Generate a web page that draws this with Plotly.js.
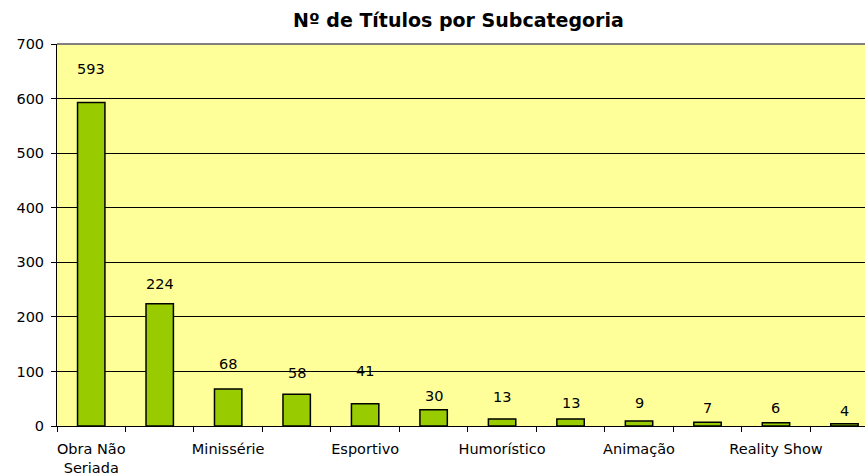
<!DOCTYPE html>
<html>
<head>
<meta charset="utf-8">
<script src="https://cdn.plot.ly/plotly-3.0.1.min.js"></script>
<style>html,body{margin:0;padding:0;background:#fff;}#chart{width:865px;height:476px;}</style>
</head>
<body>
<div id="chart"></div>
<script>
// Categories (odd-position names are not shown in the reference; they are hidden by the axis)
const categories = ["Obra Não Seriada", "Série", "Minissérie", "Documentário", "Esportivo", "Variedades",
                    "Humorístico", "Jornalístico", "Animação", "Educativo", "Reality Show", "Outros"];
const values = [593, 224, 68, 58, 41, 30, 13, 13, 9, 7, 6, 4];
const tickLabels = ["Obra Não<br>Seriada", "", "Minissérie", "", "Esportivo", "", "Humorístico", "", "Animação", "", "Reality Show", ""];
const yTicks = [0, 100, 200, 300, 400, 500, 600, 700];
// vertical pixel offset of each value label above its bar top (style)
const labelShift = [33, 20, 25, 21, 33, 14, 22, 16, 18, 14, 15, 13];

const FONT = "DejaVu Sans, Verdana, sans-serif";
const FS = 14.5;

const trace = {
  type: "bar",
  x: categories,
  y: values,
  width: 0.4,
  marker: {color: "#99CC00", line: {color: "#000000", width: 1.5}},
  hoverinfo: "none"
};

const annotations = categories.map((c, i) => ({
  x: c, y: values[i], xref: "x", yref: "y",
  text: String(values[i]), showarrow: false,
  yanchor: "middle", yshift: labelShift[i],
  font: {family: FONT, size: FS, color: "#000"}
}));

const layout = {
  width: 865, height: 476,
  margin: {l: 57, r: 0, t: 44, b: 50},
  paper_bgcolor: "#ffffff",
  plot_bgcolor: "#FFFF99",
  showlegend: false,
  title: {
    text: "<b>Nº de Títulos por Subcategoria</b>",
    font: {family: FONT, size: 19, color: "#000"},
    xref: "container", yref: "container",
    x: 0.53, xanchor: "center", y: 0.958, yanchor: "middle"
  },
  xaxis: {
    type: "category",
    categoryorder: "array", categoryarray: categories,
    range: [-0.5, 11.3],
    tickmode: "array", tickvals: categories, ticktext: tickLabels,
    tickson: "boundaries", tickangle: 0,
    ticks: "outside", ticklen: 5, tickcolor: "#000", tickwidth: 1,
    ticklabelstandoff: 10,
    showline: true, linecolor: "#000", linewidth: 1,
    showgrid: false, zeroline: false,
    tickfont: {family: FONT, size: FS, color: "#000"},
    fixedrange: true
  },
  yaxis: {
    range: [0, 700],
    tickmode: "array", tickvals: yTicks, ticktext: yTicks.map(String),
    ticks: "outside", ticklen: 5, tickcolor: "#000", tickwidth: 1,
    ticklabelstandoff: 4,
    showline: true, linecolor: "#000", linewidth: 1,
    showgrid: true, gridcolor: "#000", gridwidth: 1,
    zeroline: false,
    tickfont: {family: FONT, size: FS, color: "#000"},
    fixedrange: true
  },
  shapes: [{
    type: "line", xref: "paper", yref: "paper",
    x0: 0, x1: 1, y0: 1, y1: 1,
    line: {color: "#808080", width: 2}
  }],
  annotations: annotations,
  bargap: 0.6
};

Plotly.newPlot("chart", [trace], layout, {displayModeBar: false, staticPlot: true});
</script>
</body>
</html>
